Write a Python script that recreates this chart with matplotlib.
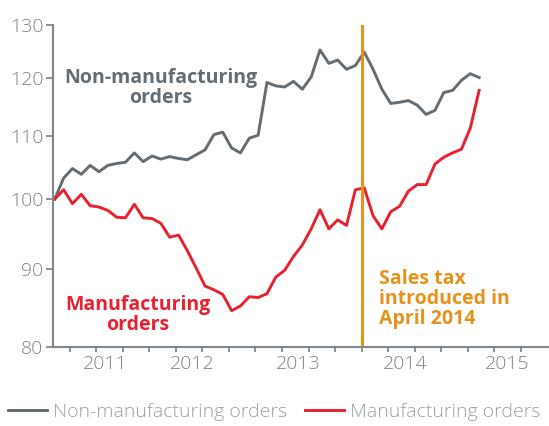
import numpy as np
import matplotlib
matplotlib.use("Agg")
import matplotlib.pyplot as plt
from matplotlib.ticker import NullLocator

plt.rcParams["font.family"] = ["Open Sans", "DejaVu Sans"]

# ===========================
# Data (index, start = 100), monthly
# ===========================
non_mfg = [100.0, 103.2, 104.7, 103.8, 105.2, 104.2, 105.2, 105.5, 105.7, 107.2,
           105.8, 106.7, 106.2, 106.6, 106.3, 106.1, 106.9, 107.7, 110.2, 110.6,
           108.0, 107.2, 109.6, 110.1, 119.2, 118.6, 118.4, 119.4, 118.0, 120.2,
           125.2, 122.7, 123.3, 121.6, 122.3, 124.8, 121.6, 118.0, 115.5, 115.7,
           116.0, 115.2, 113.6, 114.3, 117.4, 117.8, 119.6, 120.8, 120.1]

mfg = [100.0, 101.4, 99.3, 100.7, 99.0, 98.8, 98.3, 97.3, 97.2, 99.2,
       97.2, 97.1, 96.4, 94.4, 94.7, 92.5, 90.1, 87.7, 87.2, 86.6,
       84.5, 85.1, 86.3, 86.2, 86.7, 88.9, 89.8, 91.7, 93.3, 95.6,
       98.4, 95.6, 96.9, 96.1, 101.4, 101.7, 97.5, 95.6, 98.1, 98.9,
       101.2, 102.2, 102.2, 105.4, 106.5, 107.2, 107.8, 111.3, 117.8]

years = ["2011", "2012", "2013", "2014", "2015"]
y_ticks = [80, 90, 100, 110, 120, 130]

GRAY = "#646d73"
RED = "#e8212e"
ORANGE = "#e8921e"
AXIS = "#7f888e"
TICKTXT = "#7b848a"

month = np.arange(len(non_mfg))

fig = plt.figure(figsize=(5.49, 4.26), dpi=100)
ax = fig.add_axes([53 / 549, 1 - 347 / 426, 1 - 53 / 549, (347 - 25) / 426])

ax.plot(month, non_mfg, color=GRAY, lw=2.1, label="Non-manufacturing orders")
ax.plot(month, mfg, color=RED, lw=2.1, label="Manufacturing orders")
ax.axvline(34.7, color=ORANGE, lw=2.2)

ax.set_yscale("log")
ax.set_ylim(80, 130)
ax.set_xlim(-0.2, 55.9)
ax.set_yticks(y_ticks)
ax.set_yticklabels([str(v) for v in y_ticks], fontweight="light")
ax.yaxis.set_minor_locator(NullLocator())

# quarter tick marks + year labels
ax.set_xticks(np.arange(1.7, 55, 3), minor=True)
ax.set_xticks([5.7, 15.6, 27.5, 39.6, 51.2])
ax.set_xticklabels(years, fontweight="light")
ax.tick_params(axis="x", which="major", length=0, pad=6, labelsize=14, labelcolor=TICKTXT)
ax.tick_params(axis="x", which="minor", length=3.5, width=1.3, color=AXIS)
ax.tick_params(axis="y", length=5, width=1.3, color=AXIS, pad=2, labelsize=14, labelcolor=TICKTXT)

for s in ["top", "right"]:
    ax.spines[s].set_visible(False)
for s in ["left", "bottom"]:
    ax.spines[s].set_color(AXIS)
    ax.spines[s].set_linewidth(1.5)

# annotations
ax.text(12.0, 118.2, "Non-manufacturing\norders", color=GRAY, fontsize=14,
        fontweight="bold", ha="center", va="center", linespacing=1.0)
ax.text(9.4, 83.9, "Manufacturing\norders", color=RED, fontsize=14,
        fontweight="bold", ha="center", va="center", linespacing=1.0)
ax.text(36.65, 86.0, "Sales tax\nintroduced in\nApril 2014", color=ORANGE, fontsize=14,
        fontweight="bold", ha="left", va="center", linespacing=1.0)

leg = fig.legend(loc="center left", bbox_to_anchor=(8 / 549, 1 - 412 / 426), ncol=2,
                 frameon=False, handlelength=2.0, handletextpad=0.3,
                 columnspacing=0.95, borderaxespad=0, borderpad=0,
                 prop={"size": 14, "weight": "light"})
for t in leg.get_texts():
    t.set_color("#9aa1a6")

plt.savefig("out.png", dpi=100)
plt.close()
